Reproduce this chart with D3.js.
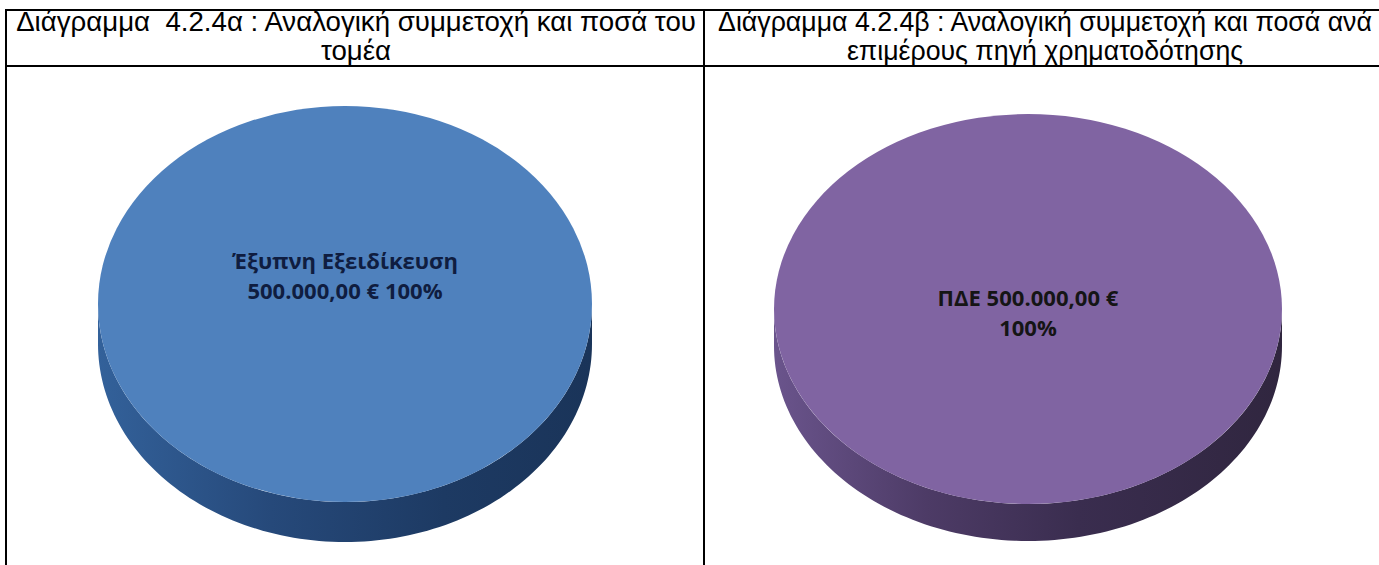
<!DOCTYPE html>
<html><head><meta charset="utf-8">
<script src="https://cdn.jsdelivr.net/npm/d3@7"></script>
<style>html,body{margin:0;padding:0;background:#fff;}svg{display:block;}</style>
</head><body>
<svg id="chart" width="1379" height="565"></svg>
<script>
// ---- data ----
const titleLeft = ["Διάγραμμα  4.2.4α : Αναλογική συμμετοχή και ποσά του", "τομέα"];
const titleRight = ["Διάγραμμα 4.2.4β : Αναλογική συμμετοχή και ποσά ανά", "επιμέρους πηγή χρηματοδότησης"];
const sectorCategories = ["Έξυπνη Εξειδίκευση"];
const sectorValues = [500000];
const sourceCategories = ["ΠΔΕ"];
const sourceValues = [500000];

const locale = d3.formatLocale({decimal: ",", thousands: ".", grouping: [3], currency: ["", " €"]});
const fmtMoney = locale.format("$,.2f");
const fmtPct = d3.format(".0%");

const svg = d3.select("#chart");

// ---- table frame ----
const frame = svg.append("g").attr("stroke", "#000").attr("stroke-width", 2);
frame.append("line").attr("x1", 5).attr("x2", 1379).attr("y1", 10).attr("y2", 10);
frame.append("line").attr("x1", 5).attr("x2", 1379).attr("y1", 66).attr("y2", 66);
frame.append("line").attr("x1", 6).attr("x2", 6).attr("y1", 9).attr("y2", 565);
frame.append("line").attr("x1", 704).attr("x2", 704).attr("y1", 9).attr("y2", 565);

// ---- titles ----
function drawTitle(lines, cx, targetWidth) {
  const g = svg.append("g");
  const t = g.selectAll("text").data(lines).join("text")
    .attr("x", cx).attr("y", (d, i) => 31 + i * 29)
    .attr("text-anchor", "middle")
    .attr("font-family", "'Liberation Sans', Arial, sans-serif")
    .attr("font-size", 24).attr("fill", "#000")
    .style("white-space", "pre")
    .text(d => d);
  const w = t.nodes()[0].getComputedTextLength();
  t.attr("font-size", 24 * targetWidth / w);
  return t;
}
drawTitle(titleLeft, 356, 680);
drawTitle(titleRight, 1045, 654);

// ---- 3D pies ----
const defs = svg.append("defs");
function grad(id, stops) {
  const g = defs.append("linearGradient").attr("id", id).attr("x1", "0%").attr("x2", "100%").attr("y1", "0%").attr("y2", "0%");
  stops.forEach(s => g.append("stop").attr("offset", s[0]).attr("stop-color", s[1]));
}
grad("sideBlue", [["0%", "#33619a"], ["35%", "#26497a"], ["70%", "#1d3a63"], ["100%", "#1a3459"]]);
grad("sidePurple", [["0%", "#6a548c"], ["30%", "#4d3b66"], ["60%", "#3a2d4f"], ["100%", "#30263f"]]);

function pie3d(opts) {
  const {vals, cx, cy, rx, ry, depth, face, side, labelLines, labelY, labelColor} = opts;
  const arcs = d3.pie().sort(null)(vals);
  const g = svg.append("g");
  const pt = (a, dy) => [cx + rx * Math.sin(a), cy - ry * Math.cos(a) + dy];
  // side walls (front half only)
  arcs.forEach(d => {
    const a0 = Math.max(d.startAngle, Math.PI / 2), a1 = Math.min(d.endAngle, 3 * Math.PI / 2);
    if (a1 <= a0) return;
    const n = 120, top = [], bot = [];
    for (let i = 0; i <= n; i++) {
      const a = a0 + (a1 - a0) * i / n;
      top.push(pt(a, 0)); bot.push(pt(a, depth));
    }
    g.append("path").attr("d", d3.line()(top.concat(bot.reverse())) + "Z").attr("fill", side);
  });
  // top face via d3.arc, squashed vertically
  const arc = d3.arc().innerRadius(0).outerRadius(rx);
  g.append("g").attr("transform", `translate(${cx},${cy}) scale(1,${ry / rx})`)
    .selectAll("path").data(arcs).join("path")
    .attr("d", arc).attr("fill", face);
  // label
  return g.selectAll("text.lbl").data(labelLines).join("text").attr("class", "lbl")
    .attr("x", cx).attr("y", (d, i) => labelY + i * 30)
    .attr("text-anchor", "middle")
    .attr("font-family", "'Open Sans', 'Noto Sans', sans-serif")
    .attr("font-weight", "bold").attr("font-size", 18)
    .attr("fill", labelColor).text(d => d);
}

const total1 = d3.sum(sectorValues), total2 = d3.sum(sourceValues);
const l1 = pie3d({
  vals: sectorValues,
  cx: 345, cy: 304, rx: 247, ry: 198, depth: 40,
  face: "#4f81bd", side: "url(#sideBlue)",
  labelLines: [sectorCategories[0], fmtMoney(sectorValues[0]) + " " + fmtPct(sectorValues[0] / total1)],
  labelY: 269, labelColor: "#0f1d40"
});
const l2 = pie3d({
  vals: sourceValues,
  cx: 1028, cy: 309, rx: 254, ry: 195, depth: 37,
  face: "#8064a2", side: "url(#sidePurple)",
  labelLines: [sourceCategories[0] + " " + fmtMoney(sourceValues[0]), fmtPct(sourceValues[0] / total2)],
  labelY: 306, labelColor: "#151515"
});
const lw = l1.nodes()[0].getComputedTextLength();
const lfs = 18 * 226 / lw;
l1.attr("font-size", lfs);
l2.attr("font-size", lfs);
</script>
</body></html>
